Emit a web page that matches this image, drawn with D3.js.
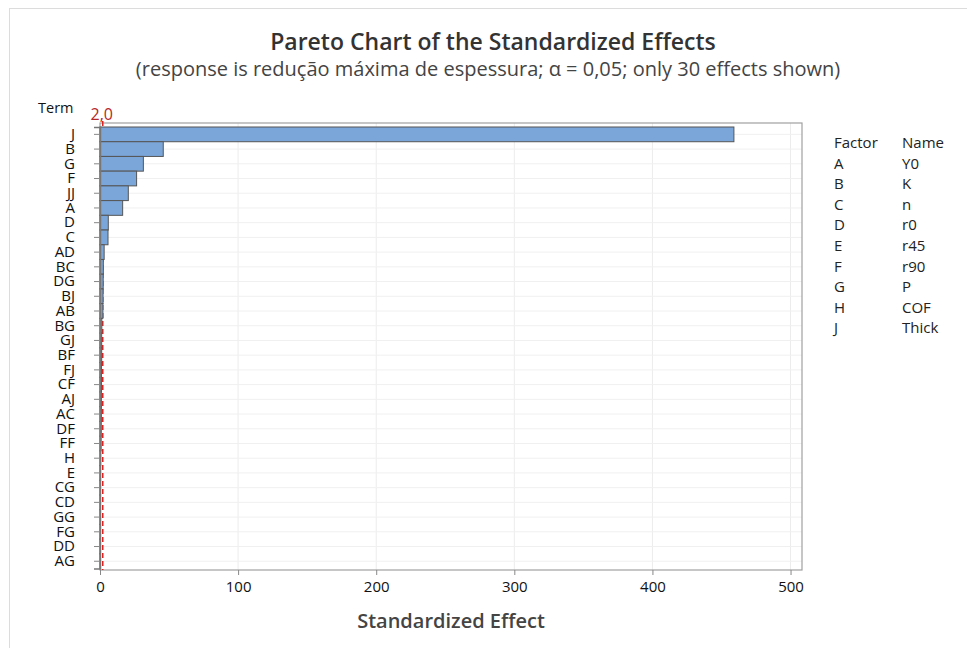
<!DOCTYPE html>
<html>
<head>
<meta charset="utf-8">
<script src="https://cdn.jsdelivr.net/npm/d3@7"></script>
<style>
  html, body { margin: 0; padding: 0; background: #fff; }
  svg { display: block; font-family: "Open Sans", "Noto Sans", sans-serif; }
</style>
</head>
<body>
<svg id="chart" width="967" height="648"></svg>
<script>
// Terms in Pareto order (largest effect first)
const terms = ["J","B","G","F","JJ","A","D","C","AD","BC","DG","BJ","AB","BG","GJ","BF","FJ","CF","AJ","AC","DF","FF","H","E","CG","CD","GG","FG","DD","AG"];
// Absolute standardized effect of each term
const effects = [459, 45.8, 31.4, 26.5, 20.5, 16.4, 6.0, 5.8, 3.0, 2.4, 2.3, 2.2, 2.1, 1.3, 1.2, 1.2, 1.1, 1.1, 1.0, 1.0, 0.9, 0.8, 0.5, 0.4, 0.3, 0.3, 0.2, 0.2, 0.1, 0.1];
// Critical value of t for alpha = 0.05
const criticalValue = 2.0;
const criticalLabel = "2,0";
const xTicks = [0, 100, 200, 300, 400, 500];
// Factor legend
const factorCodes = ["A","B","C","D","E","F","G","H","J"];
const factorNames = ["Y0","K","n","r0","r45","r90","P","COF","Thick"];

const svg = d3.select("#chart");
const L = 100, R = 802, T = 123, B = 570;

// outer frame
svg.append("rect").attr("x", 9.5).attr("y", 8.5).attr("width", 980).attr("height", 700)
  .attr("fill", "none").attr("stroke", "#dcdcdc").attr("stroke-width", 1);

const x = d3.scaleLinear().domain([0, 508.3]).range([L, R]);
const y = d3.scaleBand().domain(terms).range([127, 568.6]).padding(0);

// gridlines
svg.append("g").selectAll("line.v").data(xTicks.slice(1)).join("line")
  .attr("x1", d => x(d)).attr("x2", d => x(d)).attr("y1", T).attr("y2", B)
  .attr("stroke", "#ececec").attr("stroke-width", 1);
svg.append("g").selectAll("line.h").data(terms).join("line")
  .attr("x1", L).attr("x2", R)
  .attr("y1", d => y(d) + y.bandwidth() / 2).attr("y2", d => y(d) + y.bandwidth() / 2)
  .attr("stroke", "#f0f0f0").attr("stroke-width", 1);

// plot frame
svg.append("rect").attr("x", L).attr("y", T).attr("width", R - L).attr("height", B - T)
  .attr("fill", "none").attr("stroke", "#a0a0a0").attr("stroke-width", 1.2);

// reference line (behind the bars)
svg.append("line")
  .attr("x1", x(criticalValue)).attr("x2", x(criticalValue))
  .attr("y1", T - 2).attr("y2", B)
  .attr("stroke", "#e02020").attr("stroke-width", 1.5)
  .attr("stroke-dasharray", "5,3");
svg.append("text").attr("x", x(criticalValue) - 1).attr("y", 120)
  .attr("text-anchor", "middle").attr("fill", "#b52828")
  .attr("font-size", 16).text(criticalLabel);

// bars
svg.append("g").selectAll("rect").data(terms).join("rect")
  .attr("x", x(0))
  .attr("y", d => y(d))
  .attr("width", (d, i) => x(effects[i]) - x(0))
  .attr("height", y.bandwidth())
  .attr("fill", "#7aa6da")
  .attr("stroke", "#555")
  .attr("stroke-width", 1);

// y axis
const yAxis = svg.append("g").attr("transform", `translate(${L},0)`)
  .call(d3.axisLeft(y).tickSize(6).tickPadding(19));
yAxis.select(".domain").attr("stroke", "#777").attr("stroke-width", 1.5);
yAxis.selectAll(".tick line").attr("stroke", "#888");
yAxis.selectAll(".tick text").attr("font-size", 15).attr("fill", "#111")
  .attr("font-family", "'Open Sans', sans-serif");

// x axis
const xAxis = svg.append("g").attr("transform", `translate(0,${B})`)
  .call(d3.axisBottom(x).tickValues(xTicks).tickSize(5).tickPadding(6).tickFormat(d3.format("d")));
xAxis.select(".domain").remove();
xAxis.selectAll(".tick line").attr("stroke", "#888");
xAxis.selectAll(".tick text").attr("font-size", 15).attr("fill", "#111")
  .attr("font-family", "'Open Sans', sans-serif");

// titles
svg.append("text").attr("x", 493).attr("y", 50).attr("text-anchor", "middle")
  .attr("font-size", 23).attr("font-weight", 600).attr("fill", "#333")
  .text("Pareto Chart of the Standardized Effects");
svg.append("text").attr("x", 488).attr("y", 76).attr("text-anchor", "middle")
  .attr("font-size", 20).attr("fill", "#444")
  .text("(response is redução máxima de espessura; α = 0,05; only 30 effects shown)");
svg.append("text").attr("x", 38).attr("y", 113)
  .attr("font-size", 14.5).attr("fill", "#111").text("Term");
svg.append("text").attr("x", 451).attr("y", 628).attr("text-anchor", "middle")
  .attr("font-size", 20).attr("font-weight", 600).attr("fill", "#444")
  .text("Standardized Effect");

// legend
const lg = svg.append("g").attr("font-size", 15).attr("fill", "#222");
lg.append("text").attr("x", 834).attr("y", 148).text("Factor");
lg.append("text").attr("x", 902).attr("y", 148).text("Name");
factorCodes.forEach((c, i) => {
  const yy = 148 + (i + 1) * 20.6;
  lg.append("text").attr("x", 834).attr("y", yy).text(c);
  lg.append("text").attr("x", 902).attr("y", yy).text(factorNames[i]);
});
</script>
</body>
</html>
